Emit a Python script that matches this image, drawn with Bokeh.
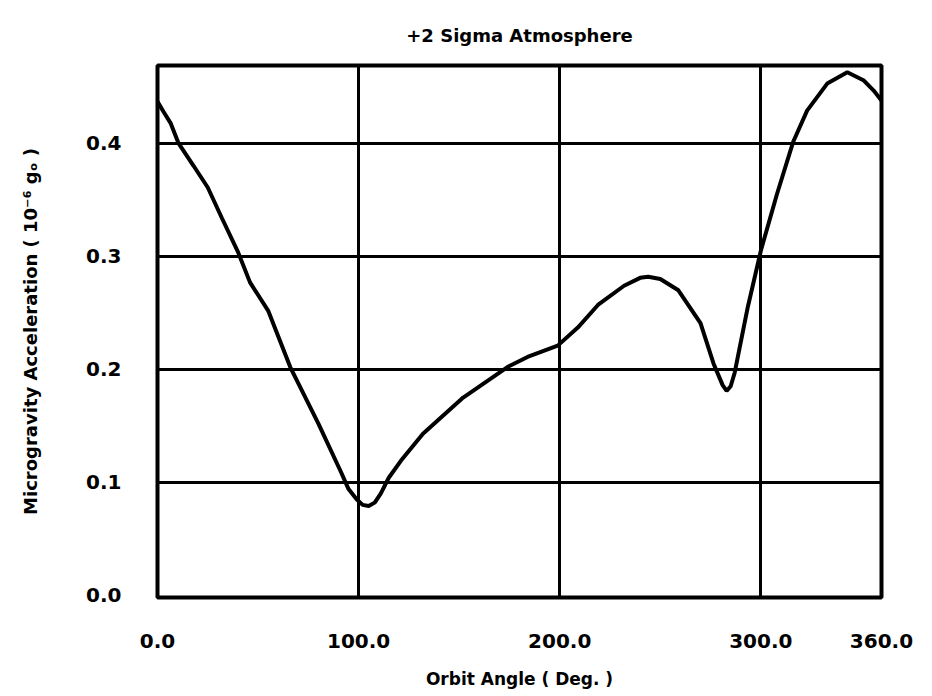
from bokeh.plotting import figure
from bokeh.models import FixedTicker, NumeralTickFormatter
from bokeh.embed import file_html
from bokeh.resources import INLINE

# Data
orbit_angle = [0, 3, 6.5, 10.5, 18, 25, 32, 40, 46, 55, 66, 80, 91, 95, 99, 102,
               105, 108, 111, 115, 121, 132, 152, 174, 184, 199, 209, 219, 232,
               240, 244, 250, 259, 270, 276.5, 281, 283, 285, 287, 293.5, 300,
               308, 316, 323, 333, 343, 351, 356, 360]
acceleration = [0.437, 0.428, 0.418, 0.400, 0.380, 0.361, 0.334, 0.304, 0.277,
                0.252, 0.202, 0.152, 0.110, 0.094, 0.085, 0.080, 0.079, 0.082,
                0.090, 0.104, 0.119, 0.143, 0.175, 0.202, 0.211, 0.221, 0.237,
                0.257, 0.274, 0.281, 0.282, 0.280, 0.270, 0.241, 0.205, 0.186,
                0.181, 0.185, 0.197, 0.255, 0.305, 0.355, 0.401, 0.429, 0.453,
                0.463, 0.456, 0.447, 0.438]
x_ticks = [0, 100, 200, 300, 360]
y_ticks = [0.0, 0.1, 0.2, 0.3, 0.4]

FONT = "DejaVu Sans"

p = figure(width=916, height=692, output_backend="svg", toolbar_location=None,
           x_range=(0, 360), y_range=(-0.002, 0.469),
           min_border_left=157, min_border_right=35, min_border_top=65,
           min_border_bottom=95,
           title="+2 Sigma Atmosphere")

p.title.align = "center"
p.title.text_font = FONT
p.title.text_font_size = "18px"
p.title.text_font_style = "bold"
p.title.text_color = "black"
p.title.standoff = 40

p.line(orbit_angle, acceleration, line_color="black", line_width=4)

p.outline_line_color = "black"
p.outline_line_width = 4
p.outline_line_alpha = 1.0

for ax in (p.xaxis[0], p.yaxis[0]):
    ax.axis_line_color = None
    ax.major_tick_line_color = None
    ax.minor_tick_line_color = None
    ax.major_tick_in = 0
    ax.major_tick_out = 0
    ax.minor_tick_in = 0
    ax.minor_tick_out = 0
    ax.major_label_text_font = FONT
    ax.major_label_text_font_style = "bold"
    ax.major_label_text_font_size = "20px"
    ax.major_label_text_color = "black"
    ax.major_label_standoff = 36
    ax.axis_label_text_font = FONT
    ax.axis_label_text_font_style = "bold"
    ax.axis_label_text_color = "black"

p.xaxis.ticker = FixedTicker(ticks=x_ticks)
p.yaxis.ticker = FixedTicker(ticks=y_ticks)
p.xaxis.formatter = NumeralTickFormatter(format="0.0")
p.yaxis.formatter = NumeralTickFormatter(format="0.0")

p.xaxis.axis_label = "Orbit Angle ( Deg. )"
p.xaxis.axis_label_text_font_size = "17px"
p.xaxis.axis_label_standoff = 18
p.yaxis.axis_label = "Microgravity Acceleration ( 10\u207b\u2076 g\u2092 )"
p.yaxis.axis_label_text_font_size = "18px"
p.yaxis.axis_label_standoff = 42

p.xgrid.ticker = FixedTicker(ticks=[100, 200, 300])
p.ygrid.ticker = FixedTicker(ticks=[0.1, 0.2, 0.3, 0.4])
p.grid.grid_line_color = "black"
p.grid.grid_line_width = 3
p.grid.grid_line_alpha = 1.0

p.background_fill_color = "white"
p.border_fill_color = "white"

open("out.html", "w").write(file_html(p, INLINE))
